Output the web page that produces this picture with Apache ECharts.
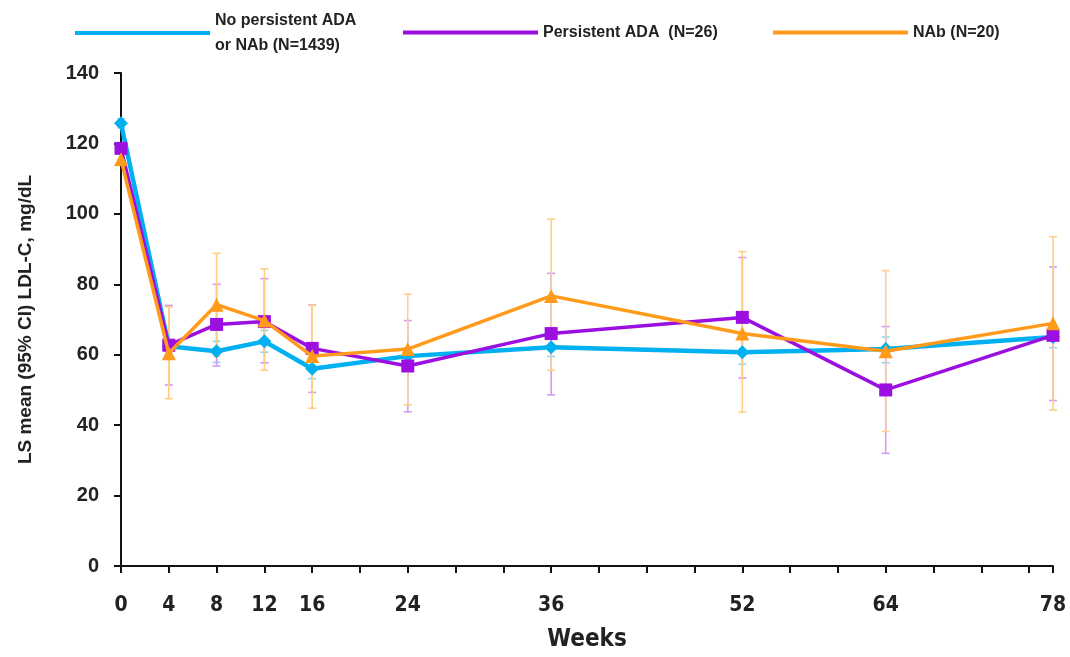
<!DOCTYPE html>
<html>
<head>
<meta charset="utf-8">
<script src="https://cdn.jsdelivr.net/npm/echarts@6/dist/echarts.min.js"></script>
<style>
html,body{margin:0;padding:0;background:#fff;}
#chart{width:1070px;height:657px;}
</style>
</head>
<body>
<div id="chart"></div>
<script>
// ---- data ----
const weeks = [0, 4, 8, 12, 16, 24, 36, 52, 64, 78];
const xTickLabels = [0, 4, 8, 12, 16, 24, 36, 52, 64, 78];
const yTickLabels = [0, 20, 40, 60, 80, 100, 120, 140];

const seriesNames = ['No persistent ADA\nor NAb (N=1439)', 'Persistent ADA  (N=26)', 'NAb (N=20)'];

const noAdaMean = [125.7, 62.4, 61.0, 63.8, 56.0, 59.6, 62.1, 60.7, 61.6, 65.0];
const noAdaLow  = [124.5, 60.8, 57.8, 60.7, 53.2, 57.5, 59.5, 57.3, 57.7, 62.0];
const noAdaHigh = [127.0, 64.0, 63.8, 66.9, 58.5, 61.8, 64.5, 64.5, 65.0, 68.0];

const persMean = [118.6, 62.7, 68.6, 69.4, 61.8, 56.8, 66.0, 70.6, 50.0, 65.5];
const persLow  = [117.5, 51.4, 56.8, 57.7, 49.3, 43.8, 48.6, 53.4, 32.0, 47.0];
const persHigh = [119.7, 74.0, 80.0, 81.6, 74.1, 69.7, 83.1, 87.6, 68.0, 84.9];

const nabMean = [115.5, 60.4, 74.2, 69.7, 59.6, 61.6, 76.7, 66.0, 61.0, 68.9];
const nabLow  = [114.0, 47.5, 59.5, 55.6, 44.8, 45.8, 55.6, 43.7, 38.2, 44.3];
const nabHigh = [117.0, 73.6, 88.8, 84.4, 74.0, 77.2, 98.5, 89.3, 83.9, 93.5];

// ---- styles ----
const colors = ['#00B0F0', '#9B0FE0', '#FF9A1A'];
const barColors = ['#8FD8F5', '#D29AF2', '#FFCF8A'];
const symbols = ['diamond', 'rect', 'triangle'];
const condensed = 'DejaVu Sans Condensed, Liberation Sans Narrow, Liberation Sans, Arial, sans-serif';

function pairs(xs, ys) { return xs.map((x, i) => [x, ys[i]]); }
function triples(xs, lo, hi) { return xs.map((x, i) => [x, lo[i], hi[i]]); }

function errorSeries(name, data, color) {
  return {
    type: 'custom',
    name: name + '_err',
    data: data,
    encode: { x: 0, y: [1, 2] },
    z: 1,
    silent: true,
    renderItem: function (params, api) {
      const x = api.value(0);
      const lo = api.coord([x, api.value(1)]);
      const hi = api.coord([x, api.value(2)]);
      const cw = 4;
      const st = { stroke: color, lineWidth: 1.6 };
      return {
        type: 'group',
        children: [
          { type: 'line', shape: { x1: lo[0], y1: lo[1], x2: hi[0], y2: hi[1] }, style: st },
          { type: 'line', shape: { x1: lo[0] - cw, y1: lo[1], x2: lo[0] + cw, y2: lo[1] }, style: st },
          { type: 'line', shape: { x1: hi[0] - cw, y1: hi[1], x2: hi[0] + cw, y2: hi[1] }, style: st }
        ]
      };
    }
  };
}

function lineSeries(i, data, width, symSize) {
  return {
    type: 'line',
    name: seriesNames[i],
    data: data,
    z: 3 + i,
    symbol: symbols[i],
    symbolSize: symSize,
    showAllSymbol: true,
    lineStyle: { color: colors[i], width: width },
    itemStyle: { color: colors[i] },
    emphasis: { disabled: true }
  };
}

const legendText = { fontFamily: 'Liberation Sans, Arial, sans-serif', fontWeight: 'bold', fontSize: 16, color: '#222', lineHeight: 25 };
function legendAt(i, left, top) {
  return {
    data: [seriesNames[i]],
    left: left,
    top: top,
    icon: 'rect',
    itemWidth: 135,
    itemHeight: 4,
    itemGap: 0,
    padding: 0,
    textStyle: legendText,
    selectedMode: false
  };
}

const chart = echarts.init(document.getElementById('chart'), null, { renderer: 'canvas' });
chart.setOption({
  animation: false,
  backgroundColor: '#ffffff',
  legend: [legendAt(0, 75, 8), legendAt(1, 403, 20), legendAt(2, 773, 20)],
  grid: { left: 121, right: 17, top: 73, bottom: 85, containLabel: false },
  xAxis: {
    type: 'value',
    min: 0, max: 78, interval: 4,
    name: 'Weeks',
    nameLocation: 'middle',
    nameGap: 62,
    nameTextStyle: { fontFamily: condensed, fontWeight: 'bold', fontSize: 24, color: '#222' },
    axisLine: { lineStyle: { color: '#111', width: 2 } },
    axisTick: { show: true, inside: false, length: 7, lineStyle: { color: '#111', width: 2 } },
    splitLine: { show: false },
    axisLabel: {
      margin: 29,
      showMaxLabel: true, showMinLabel: true,
      fontFamily: condensed,
      fontWeight: 'bold', fontSize: 21, color: '#222',
      formatter: function (v) { return xTickLabels.indexOf(v) >= 0 ? String(v) : ''; }
    }
  },
  yAxis: {
    type: 'value',
    min: 0, max: 140, interval: 20,
    name: 'LS mean (95% CI) LDL-C, mg/dL',
    nameLocation: 'middle',
    nameGap: 86,
    nameTextStyle: { fontFamily: 'Liberation Sans, Arial, sans-serif', fontWeight: 'bold', fontSize: 19, color: '#222' },
    axisLine: { show: true, lineStyle: { color: '#111', width: 2 } },
    axisTick: { show: true, inside: false, length: 7, lineStyle: { color: '#111', width: 2 } },
    splitLine: { show: false },
    axisLabel: {
      margin: 22,
      fontFamily: 'Liberation Sans, Arial, sans-serif',
      fontWeight: 'bold', fontSize: 20, color: '#222',
      formatter: function (v) { return yTickLabels.indexOf(v) >= 0 ? String(v) : ''; }
    }
  },
  series: [
    errorSeries('noAda', triples(weeks, noAdaLow, noAdaHigh), barColors[0]),
    errorSeries('pers', triples(weeks, persLow, persHigh), barColors[1]),
    errorSeries('nab', triples(weeks, nabLow, nabHigh), barColors[2]),
    lineSeries(0, pairs(weeks, noAdaMean), 4.5, 14),
    lineSeries(1, pairs(weeks, persMean), 3.5, 13),
    lineSeries(2, pairs(weeks, nabMean), 3.5, 14)
  ]
});
</script>
</body>
</html>
